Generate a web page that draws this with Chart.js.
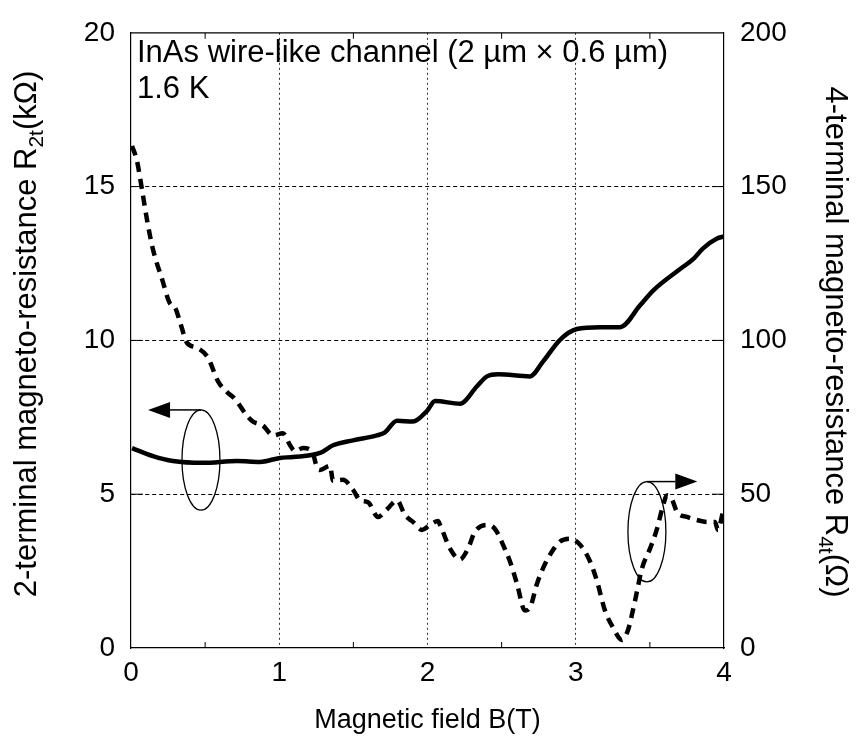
<!DOCTYPE html>
<html>
<head>
<meta charset="utf-8">
<script src="https://cdn.jsdelivr.net/npm/chart.js@4"></script>
<style>
  html, body { margin: 0; padding: 0; background: #fff; }
  #wrap { width: 856px; height: 737px; }
</style>
</head>
<body>
<div id="wrap"><canvas id="chart" width="856" height="737"></canvas></div>
<script>
// 2-terminal curve (left axis, kOhm)
const b2t = [0.007, 0.148, 0.283, 0.486, 0.715, 0.870, 1.005, 1.093, 1.275, 1.363, 1.497, 1.659, 1.713, 1.794, 1.902, 1.997, 2.051, 2.219, 2.334, 2.401, 2.476, 2.691, 2.779, 2.894, 3.008, 3.164, 3.299, 3.434, 3.522, 3.704, 3.792, 3.859, 3.953, 4.0];
const r2t = [6.50, 6.24, 6.08, 6.02, 6.08, 6.05, 6.18, 6.21, 6.34, 6.59, 6.75, 6.91, 7.01, 7.39, 7.36, 7.71, 8.03, 7.94, 8.51, 8.83, 8.90, 8.83, 9.31, 10.02, 10.37, 10.43, 10.43, 11.14, 11.62, 12.32, 12.64, 12.99, 13.31, 13.38];

// 4-terminal curve (right axis, Ohm)
const b4t = [0.007, 0.04, 0.074, 0.108, 0.148, 0.209, 0.263, 0.297, 0.331, 0.378, 0.445, 0.519, 0.587, 0.648, 0.701, 0.782, 0.823, 0.890, 0.958, 1.025, 1.073, 1.106, 1.160, 1.221, 1.255, 1.275, 1.342, 1.363, 1.430, 1.497, 1.545, 1.599, 1.666, 1.727, 1.794, 1.848, 1.902, 1.963, 2.017, 2.071, 2.085, 2.152, 2.219, 2.273, 2.320, 2.401, 2.455, 2.509, 2.556, 2.604, 2.657, 2.691, 2.738, 2.779, 2.840, 2.894, 2.961, 3.029, 3.096, 3.143, 3.197, 3.251, 3.312, 3.352, 3.400, 3.447, 3.501, 3.548, 3.582, 3.616, 3.649, 3.683, 3.750, 3.818, 3.885, 3.939, 3.959, 3.993];
const r4t = [163.2, 158.4, 149.1, 139.2, 129.6, 120.0, 112.0, 110.7, 105.9, 99.2, 97.6, 94.4, 86.7, 83.2, 81.0, 75.5, 73.6, 72.3, 69.1, 69.8, 65.9, 64.0, 65.0, 64.0, 58.6, 57.9, 59.2, 54.4, 54.7, 51.5, 48.0, 47.4, 42.6, 45.1, 48.0, 43.2, 41.0, 38.4, 40.0, 41.3, 40.0, 32.3, 28.8, 32.3, 37.8, 40.0, 38.7, 33.6, 28.2, 20.8, 12.2, 13.1, 20.8, 25.9, 31.4, 34.6, 35.5, 33.6, 28.2, 21.8, 12.2, 6.7, 2.6, 5.8, 15.4, 25.9, 32.3, 38.7, 45.1, 49.6, 48.3, 44.2, 42.6, 41.6, 41.0, 41.0, 38.4, 44.2];

const xTicks = [0, 1, 2, 3, 4];
const yLeftTicks = [0, 5, 10, 15, 20];
const yRightTicks = [0, 50, 100, 150, 200];

const FONT = "'Liberation Sans', Arial, sans-serif";

const decorations = {
  id: 'decorations',
  afterDraw(chart) {
    const ctx = chart.ctx;
    const { left, right, top, bottom } = chart.chartArea;
    const x = chart.scales.x, y = chart.scales.y, y2 = chart.scales.y2;
    ctx.save();

    // inward ticks
    ctx.strokeStyle = '#000';
    ctx.lineWidth = 1;
    ctx.setLineDash([]);
    ctx.beginPath();
    for (let v = 0.5; v < 4; v += 1) {
      const px = x.getPixelForValue(v);
      ctx.moveTo(px, bottom); ctx.lineTo(px, bottom - 6);
      ctx.moveTo(px, top); ctx.lineTo(px, top + 6);
    }
    yLeftTicks.slice(1, -1).forEach(v => {
      const py = y.getPixelForValue(v);
      ctx.moveTo(left, py); ctx.lineTo(left + 12, py);
      ctx.moveTo(right, py); ctx.lineTo(right - 12, py);
    });
    ctx.stroke();

    // annotation text
    ctx.fillStyle = '#000';
    ctx.font = '31px ' + FONT;
    ctx.textAlign = 'left';
    ctx.textBaseline = 'alphabetic';
    ctx.fillText('InAs wire-like channel (2 µm × 0.6 µm)', left + 6, 62);
    ctx.fillText('1.6 K', left + 6, 98);

    // ellipses + arrows
    function ellipse(bx, vy, rxB, ryV, sc) {
      const cx = x.getPixelForValue(bx), cy = sc.getPixelForValue(vy);
      const rx = Math.abs(x.getPixelForValue(bx + rxB) - cx);
      const ry = Math.abs(sc.getPixelForValue(vy + ryV) - cy);
      ctx.beginPath();
      ctx.lineWidth = 1.3;
      ctx.ellipse(cx, cy, rx, ry, 0, 0, Math.PI * 2);
      ctx.stroke();
      return { cx, cy, rx, ry };
    }
    function arrow(x0, yy, x1) {
      const dir = Math.sign(x1 - x0);
      const headLen = 22, halfW = 8;
      ctx.beginPath();
      ctx.lineWidth = 1.5;
      ctx.moveTo(x0, yy); ctx.lineTo(x1 - dir * headLen, yy);
      ctx.stroke();
      ctx.beginPath();
      ctx.moveTo(x1, yy);
      ctx.lineTo(x1 - dir * headLen, yy - halfW);
      ctx.lineTo(x1 - dir * headLen, yy + halfW);
      ctx.closePath();
      ctx.fill();
    }
    const e1 = ellipse(0.472, 6.11, 0.128, 1.63, y);
    arrow(e1.cx, e1.cy - e1.ry, x.getPixelForValue(0.115));
    const e2 = ellipse(3.48, 37.8, 0.128, 16.3, y2);
    arrow(e2.cx, e2.cy - e2.ry, x.getPixelForValue(3.82));

    // axis titles
    ctx.textAlign = 'center';
    ctx.font = '27px ' + FONT;
    ctx.fillText('Magnetic field B(T)', (left + right) / 2, 728);

    function subTitle(parts, cx, cy, angle) {
      ctx.save();
      ctx.translate(cx, cy);
      ctx.rotate(angle);
      const big = '31px ' + FONT, small = '21px ' + FONT;
      let w = 0;
      parts.forEach(p => { ctx.font = p.sub ? small : big; w += ctx.measureText(p.t).width; });
      let px = -w / 2;
      ctx.textAlign = 'left';
      parts.forEach(p => {
        ctx.font = p.sub ? small : big;
        ctx.fillText(p.t, px, p.sub ? 7 : 0);
        px += ctx.measureText(p.t).width;
      });
      ctx.restore();
    }
    subTitle([{ t: '2-terminal magneto-resistance R' }, { t: '2t', sub: true }, { t: '(kΩ)' }], 36, 334, -Math.PI / 2);
    subTitle([{ t: '4-terminal magneto-resistance R' }, { t: '4t', sub: true }, { t: '(Ω)' }], 826, 342, Math.PI / 2);

    ctx.restore();
  }
};

new Chart(document.getElementById('chart'), {
  type: 'line',
  data: {
    datasets: [
      {
        label: 'R2t',
        data: b2t.map((b, i) => ({ x: b, y: r2t[i] })),
        yAxisID: 'y',
        borderColor: '#000',
        borderWidth: 4.5,
        pointRadius: 0,
        cubicInterpolationMode: 'monotone',
        fill: false
      },
      {
        label: 'R4t',
        data: b4t.map((b, i) => ({ x: b, y: r4t[i] })),
        yAxisID: 'y2',
        borderColor: '#000',
        borderWidth: 4.5,
        borderDash: [10, 7],
        pointRadius: 0,
        cubicInterpolationMode: 'monotone',
        fill: false
      }
    ]
  },
  options: {
    responsive: false,
    animation: false,
    layout: { padding: { top: 23, left: 0, right: 0, bottom: 0 }, autoPadding: false },
    plugins: { legend: { display: false }, tooltip: { enabled: false } },
    scales: {
      x: {
        type: 'linear',
        min: 0, max: 4,
        afterFit: s => { s.height = 89; },
        afterBuildTicks: s => { s.ticks = xTicks.map(v => ({ value: v })); },
        ticks: { color: '#000', font: { size: 28, family: FONT }, padding: 8 },
        grid: {
          drawTicks: false,
          color: c => (c.tick.value === 0 || c.tick.value === 4) ? 'rgba(0,0,0,0)' : '#333',
          lineWidth: 1
        },
        border: { color: '#000', width: 1.2, dash: [2, 3] }
      },
      y: {
        position: 'left',
        min: 0, max: 20,
        afterFit: s => { s.width = 131; },
        afterBuildTicks: s => { s.ticks = yLeftTicks.map(v => ({ value: v })); },
        ticks: { color: '#000', font: { size: 28, family: FONT }, padding: 16 },
        grid: {
          drawTicks: false,
          color: c => (c.tick.value === 0 || c.tick.value === 20) ? 'rgba(0,0,0,0)' : '#000',
          lineWidth: 1
        },
        border: { color: '#000', width: 1.2, dash: [4, 3] }
      },
      y2: {
        position: 'right',
        min: 0, max: 200,
        afterFit: s => { s.width = 132; },
        afterBuildTicks: s => { s.ticks = yRightTicks.map(v => ({ value: v })); },
        ticks: { color: '#000', font: { size: 28, family: FONT }, padding: 16 },
        grid: { display: false, drawTicks: false },
        border: { color: '#000', width: 1.2 }
      }
    }
  },
  plugins: [{
    id: 'topBorder',
    afterDatasetsDraw(chart) {
      const { left, right, top } = chart.chartArea;
      const ctx = chart.ctx;
      ctx.save();
      ctx.strokeStyle = '#000';
      ctx.lineWidth = 1.2;
      ctx.beginPath();
      ctx.moveTo(left, top); ctx.lineTo(right, top);
      ctx.stroke();
      ctx.restore();
    }
  }, decorations]
});
</script>
</body>
</html>
